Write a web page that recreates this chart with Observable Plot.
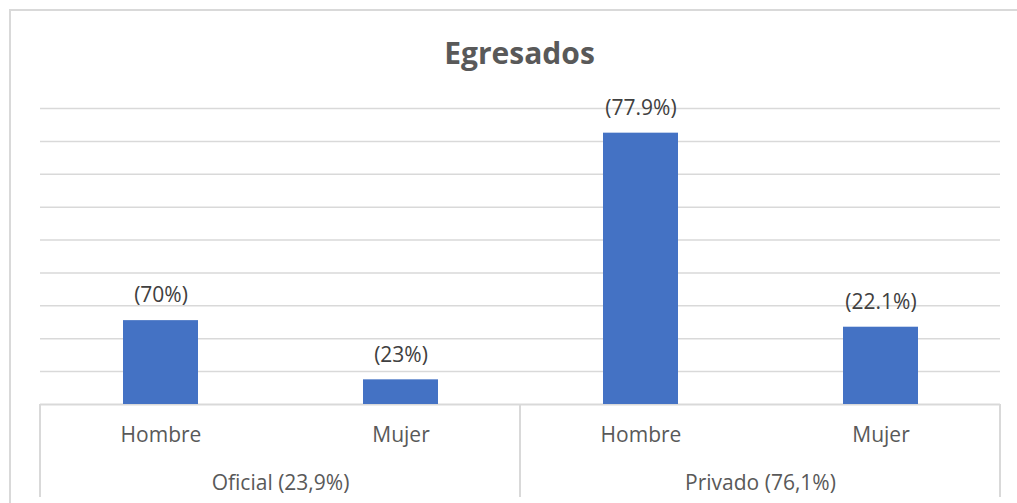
<!DOCTYPE html>
<html><head><meta charset="utf-8">
<script src="https://cdn.jsdelivr.net/npm/d3@7"></script>
<script src="https://cdn.jsdelivr.net/npm/@observablehq/plot@0.6"></script>
<style>
body{margin:0;background:#fff;font-family:"Open Sans",sans-serif;}
#wrap{position:relative;width:1017px;height:503px;overflow:hidden;background:#fff;}
#border{position:absolute;left:9px;top:9px;width:1100px;height:600px;border-top:2px solid #d9d9d9;border-left:2px solid #d9d9d9;}
#title{position:absolute;left:39px;width:961px;top:38px;text-align:center;font-family:"Open Sans",sans-serif;font-weight:bold;font-size:30px;line-height:30px;color:#595959;}
#chart{position:absolute;left:0;top:0;}
</style></head>
<body><div id="wrap"><div id="border"></div><div id="chart"></div><div id="title">Egresados</div></div>
<script>
const groups = ["Oficial (23,9%)", "Oficial (23,9%)", "Privado (76,1%)", "Privado (76,1%)"];
const sexes = ["Hombre", "Mujer", "Hombre", "Mujer"];
const counts = [51, 15, 165, 47];
const shareLabels = ["(70%)", "(23%)", "(77.9%)", "(22.1%)"];
const gridTicks = [20, 40, 60, 80, 100, 120, 140, 160, 180];

const data = sexes.map((s, i) => ({group: groups[i], sex: s, count: counts[i], label: shareLabels[i]}));
const grid = "#d9d9d9";
const groupDomain = [...new Set(groups)];
const plot = Plot.plot({
  width: 1017, height: 503,
  marginLeft: 39, marginRight: 17, marginTop: 108, marginBottom: 99,
  style: {fontFamily: '"Open Sans", sans-serif', background: "transparent", overflow: "visible"},
  fx: {domain: groupDomain, padding: 0, label: null},
  x: {domain: ["Hombre", "Mujer"], paddingInner: 0.688, paddingOuter: 0.344, label: null},
  y: {domain: [0, 180], axis: null},
  marks: [
    Plot.ruleY(gridTicks, {stroke: grid, strokeWidth: 1.5}),
    Plot.ruleY([0], {stroke: grid, strokeWidth: 2}),
    Plot.barY(data, {fx: "group", x: "sex", y: "count", fill: "#4472c4"}),
    Plot.text(data, {fx: "group", x: "sex", y: "count", text: "label", dy: -25, fontSize: 21, fill: "#404040"}),
    Plot.axisX({anchor: "bottom", tickSize: 0, tickPadding: 23, fontSize: 21, color: "#595959", label: null}),
    Plot.axisFx({anchor: "bottom", tickSize: 0, tickPadding: 71, fontSize: 21, color: "#595959", label: null})
  ]
});
document.getElementById("chart").appendChild(plot);

// group separators at facet edges, below the baseline
const fx = plot.scale("fx");
const y = plot.scale("y");
const edges = [fx.apply(groupDomain[0])].concat(groupDomain.map(g => fx.apply(g) + fx.bandwidth));
d3.select(plot).append("g")
  .selectAll("line").data(edges).join("line")
  .attr("x1", d => d).attr("x2", d => d)
  .attr("y1", y.apply(0)).attr("y2", 497)
  .attr("stroke", grid).attr("stroke-width", 2);
</script>
</body></html>
